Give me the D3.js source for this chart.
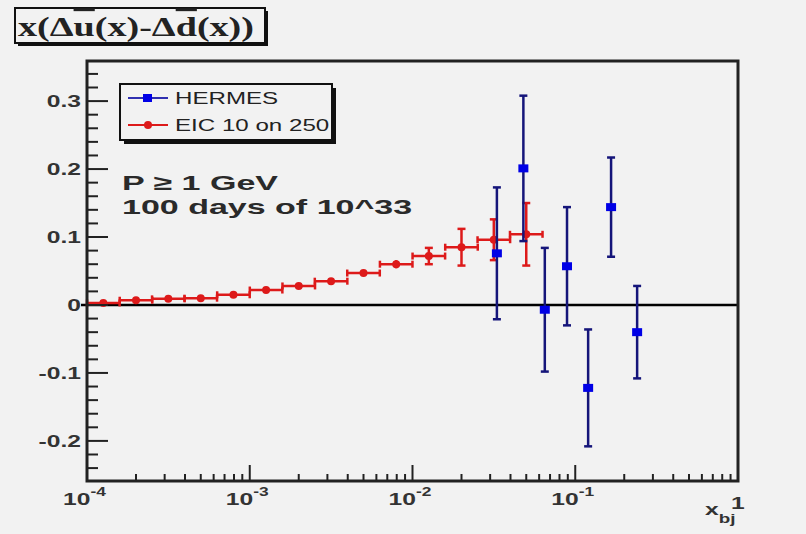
<!DOCTYPE html>
<html>
<head>
<meta charset="utf-8">
<script src="https://cdn.jsdelivr.net/npm/d3@7"></script>
<style>
  body { margin: 0; background: #f2f2f2; }
  svg { display: block; }
</style>
</head>
<body>
<div id="chart"></div>
<script>
// EIC 10 on 250 projection (bin centres, values, stat errors)
const eicX = [0.000126, 0.0002, 0.000316, 0.0005, 0.000794, 0.00126, 0.002, 0.00316, 0.005, 0.00794, 0.0126, 0.02, 0.0316, 0.05];
const eicY = [0.003, 0.007, 0.009, 0.010, 0.015, 0.022, 0.028, 0.035, 0.047, 0.060, 0.072, 0.085, 0.096, 0.104];
const eicErr = [0.003, 0.003, 0.003, 0.003, 0.003, 0.003, 0.003, 0.004, 0.004, 0.006, 0.012, 0.027, 0.030, 0.046];
const eicBinHalfDecades = 0.1;

// HERMES data
const hermesX = [0.033, 0.048, 0.065, 0.089, 0.12, 0.166, 0.24];
const hermesY = [0.076, 0.201, -0.007, 0.057, -0.122, 0.144, -0.040];
const hermesErr = [0.097, 0.107, 0.091, 0.087, 0.086, 0.073, 0.068];

const yTicks = [-0.2, -0.1, 0, 0.1, 0.2, 0.3];
const xDecades = [-4, -3, -2, -1];

const width = 806, height = 534;
const margin = { top: 61, right: 68, bottom: 53, left: 87 };
const stretch = 1.45; // the original picture is stretched horizontally
const sans = "Liberation Sans, Arial, sans-serif";

const svg = d3.select("#chart").append("svg")
    .attr("width", width)
    .attr("height", height);

svg.append("rect").attr("width", width).attr("height", height).attr("fill", "#f2f2f2");

// text helper: places a horizontally stretched text at (px, py)
function sText(parent, px, py, s) {
    return parent.append("g")
        .attr("transform", `translate(${px},${py}) scale(${s || stretch},1)`)
        .append("text");
}

const x = d3.scaleLog()
    .domain([1e-4, 1])
    .range([margin.left, width - margin.right]);

const y = d3.scaleLinear()
    .domain([-0.259, 0.359])
    .range([height - margin.bottom, margin.top]);

const x0 = margin.left, x1 = width - margin.right;
const y0 = height - margin.bottom, y1 = margin.top;

// zero line
svg.append("line")
    .attr("x1", x0 - 6).attr("x2", x1)
    .attr("y1", y(0)).attr("y2", y(0))
    .attr("stroke", "#000").attr("stroke-width", 2.5);

// EIC points: horizontal bin bars + vertical errors
const eic = svg.append("g").attr("stroke", "#dd1a1a").attr("stroke-width", 2.5).attr("fill", "none");
eicX.forEach((xv, i) => {
    const lo = xv / Math.pow(10, eicBinHalfDecades), hi = xv * Math.pow(10, eicBinHalfDecades);
    const cy = y(eicY[i]);
    eic.append("line").attr("x1", x(lo)).attr("x2", x(hi)).attr("y1", cy).attr("y2", cy);
    eic.append("line").attr("x1", x(lo)).attr("x2", x(lo)).attr("y1", cy - 3.5).attr("y2", cy + 3.5);
    eic.append("line").attr("x1", x(hi)).attr("x2", x(hi)).attr("y1", cy - 3.5).attr("y2", cy + 3.5);
    const top = y(eicY[i] + eicErr[i]), bot = y(eicY[i] - eicErr[i]);
    eic.append("line").attr("x1", x(xv)).attr("x2", x(xv)).attr("y1", top).attr("y2", bot);
    if (eicErr[i] > 0.008) {
        eic.append("line").attr("x1", x(xv) - 4).attr("x2", x(xv) + 4).attr("y1", top).attr("y2", top);
        eic.append("line").attr("x1", x(xv) - 4).attr("x2", x(xv) + 4).attr("y1", bot).attr("y2", bot);
    }
});
svg.append("g").selectAll("circle")
    .data(eicX)
    .join("circle")
    .attr("cx", d => x(d))
    .attr("cy", (d, i) => y(eicY[i]))
    .attr("r", 4)
    .attr("fill", "#dd1a1a");

// HERMES points
const her = svg.append("g").attr("stroke", "#15157a").attr("stroke-width", 2.5);
hermesX.forEach((xv, i) => {
    const top = y(hermesY[i] + hermesErr[i]), bot = y(hermesY[i] - hermesErr[i]);
    her.append("line").attr("x1", x(xv)).attr("x2", x(xv)).attr("y1", top).attr("y2", bot);
    her.append("line").attr("x1", x(xv) - 4).attr("x2", x(xv) + 4).attr("y1", top).attr("y2", top);
    her.append("line").attr("x1", x(xv) - 4).attr("x2", x(xv) + 4).attr("y1", bot).attr("y2", bot);
});
svg.append("g").selectAll("rect")
    .data(hermesX)
    .join("rect")
    .attr("x", d => x(d) - 5)
    .attr("y", (d, i) => y(hermesY[i]) - 4)
    .attr("width", 10)
    .attr("height", 8)
    .attr("fill", "#0000e6");

// frame
svg.append("rect")
    .attr("x", x0).attr("y", y1)
    .attr("width", x1 - x0).attr("height", y0 - y1)
    .attr("fill", "none").attr("stroke", "#222").attr("stroke-width", 3);

// y ticks (major + minor, pointing inward)
const yMinor = d3.range(-12, 18).map(k => k / 50);
svg.append("g").selectAll("line")
    .data(yMinor)
    .join("line")
    .attr("x1", x0)
    .attr("x2", d => (Math.abs(Math.round(d * 10) - d * 10) < 1e-6) ? x0 + 21 : x0 + 11)
    .attr("y1", d => y(d)).attr("y2", d => y(d))
    .attr("stroke", "#222").attr("stroke-width", 2);

const yl = svg.append("g")
    .attr("font-family", sans)
    .attr("font-size", 17)
    .attr("font-weight", "bold")
    .attr("fill", "#333");
yTicks.forEach(d => {
    sText(yl, x0 - 6, y(d) + 6)
        .attr("text-anchor", "end")
        .text(d === 0 ? "0" : d.toFixed(1));
});

// x ticks (log, pointing inward)
const xTickVals = [];
xDecades.forEach(e => { for (let m = 1; m < 10; m++) xTickVals.push(m * Math.pow(10, e)); });
xTickVals.push(1);
svg.append("g").selectAll("line")
    .data(xTickVals)
    .join("line")
    .attr("x1", d => x(d)).attr("x2", d => x(d))
    .attr("y1", y0)
    .attr("y2", (d, i) => (i % 9 === 0 || d === 1) ? y0 - 16 : y0 - 7)
    .attr("stroke", "#222").attr("stroke-width", 2);

const xl = svg.append("g")
    .attr("font-family", sans)
    .attr("font-weight", "bold")
    .attr("fill", "#333");
xDecades.forEach(e => {
    const t = sText(xl, x(Math.pow(10, e)) - 24, y0 + 24).attr("font-size", 17);
    t.append("tspan").text("10");
    t.append("tspan").attr("dy", -9).attr("font-size", 12).text(String(e));
});
sText(xl, x1 - 7, y0 + 28).attr("font-size", 17).text("1");
const xb = sText(xl, x1 - 33, y0 + 34).attr("font-size", 17);
xb.append("tspan").text("x");
xb.append("tspan").attr("dy", 8).attr("font-size", 13).text("bj");

// legend
const lg = svg.append("g");
lg.append("rect").attr("x", 124).attr("y", 88).attr("width", 212).attr("height", 56).attr("fill", "#111");
lg.append("rect").attr("x", 120).attr("y", 84).attr("width", 212).attr("height", 56)
    .attr("fill", "#f2f2f2").attr("stroke", "#111").attr("stroke-width", 2);
const legendItems = [
    { name: "HERMES", line: "#3030b0", mark: "#0000e6", square: true, yy: 98 },
    { name: "EIC 10 on 250", line: "#dd1a1a", mark: "#dd1a1a", square: false, yy: 125 }
];
legendItems.forEach(it => {
    lg.append("line").attr("x1", 128).attr("x2", 168).attr("y1", it.yy).attr("y2", it.yy)
        .attr("stroke", it.line).attr("stroke-width", 2);
    if (it.square) {
        lg.append("rect").attr("x", 143).attr("y", it.yy - 4).attr("width", 9).attr("height", 8).attr("fill", it.mark);
    } else {
        lg.append("circle").attr("cx", 148).attr("cy", it.yy).attr("r", 4).attr("fill", it.mark);
    }
});
const clip = svg.append("clipPath").attr("id", "legclip");
clip.append("rect").attr("x", 120).attr("y", 84).attr("width", 210).attr("height", 56);
const lgText = lg.append("g").attr("clip-path", "url(#legclip)")
    .attr("font-family", sans)
    .attr("font-size", 17)
    .attr("fill", "#222");
legendItems.forEach(it => {
    sText(lgText, 175, it.yy + 6, 1.42).text(it.name);
});

// annotation
const ann = svg.append("g")
    .attr("font-family", sans)
    .attr("font-size", 21)
    .attr("font-weight", "bold")
    .attr("fill", "#2a2a2a");
sText(ann, 122, 190, 1.62).text("P \u2265 1 GeV");
sText(ann, 122, 214, 1.62).text("100 days of 10^33");

// title box
svg.append("rect").attr("x", 18).attr("y", 11).attr("width", 250).attr("height", 35).attr("fill", "#111");
svg.append("rect").attr("x", 15).attr("y", 8).attr("width", 250).attr("height", 35)
    .attr("fill", "#f2f2f2").attr("stroke", "#111").attr("stroke-width", 2);
const title = sText(svg, 18, 36, 1.36)
    .attr("font-family", "Liberation Serif, Times New Roman, serif")
    .attr("font-size", 28)
    .attr("font-weight", "bold")
    .attr("fill", "#222");
title.append("tspan").text("x(\u0394");
title.append("tspan").style("text-decoration", "overline").text("u");
title.append("tspan").text("(x)-\u0394");
title.append("tspan").style("text-decoration", "overline").text("d");
title.append("tspan").text("(x))");
</script>
</body>
</html>
